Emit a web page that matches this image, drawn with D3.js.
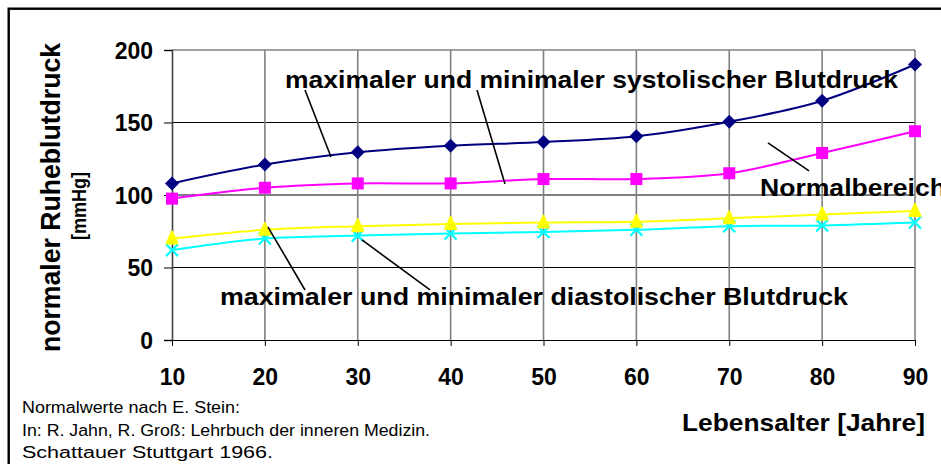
<!DOCTYPE html>
<html>
<head>
<meta charset="utf-8">
<script src="https://cdn.jsdelivr.net/npm/d3@7"></script>
<style>
  html, body { margin: 0; padding: 0; background: #fff; }
  svg { display: block; }
  text { font-family: "Liberation Sans", Arial, sans-serif; }
</style>
</head>
<body>
<svg id="chart" width="941" height="464"></svg>
<script>
// ---- data ----
const ages = [10, 20, 30, 40, 50, 60, 70, 80, 90];
const sysMax = [108, 121, 129.5, 134, 136.5, 140.5, 150.5, 165, 190];
const sysMin = [97.5, 105, 108, 108, 111, 111, 115, 129, 144];
const diaMax = [70, 76, 78.5, 80, 81, 81.5, 84, 86.5, 89];
const diaMin = [62, 70, 72, 73.5, 74.5, 76, 78.5, 79, 81];
const yTicks = [0, 50, 100, 150, 200];
const xTickLabels = ["10", "20", "30", "40", "50", "60", "70", "80", "90"];
const labelSys = "maximaler und minimaler systolischer Blutdruck";
const labelNorm = "Normalbereich";
const labelDia = "maximaler und minimaler diastolischer Blutdruck";
const yTitle1 = "normaler Ruheblutdruck";
const yTitle2 = "[mmHg]";
const xTitle = "Lebensalter [Jahre]";
const sourceLines = ["Normalwerte nach E. Stein:",
                     "In: R. Jahn, R. Groß: Lehrbuch der inneren Medizin.",
                     "Schattauer Stuttgart 1966."];
// leader lines in data coordinates [age, mmHg]
const leaders = [
  [[24.32, 172.4], [27.12, 126.2]],
  [[42.84, 172.4], [45.85, 107.6]],
  [[74.17, 135.9], [78.59, 116.6]],
  [[20.34, 77.9], [24.32, 34.5]],
  [[30.46, 69.0], [37.78, 34.5]]
];

// ---- layout ----
const svg = d3.select("#chart");
const L = 172, R = 915, T = 50, B = 340;
const x = d3.scaleLinear().domain([10, 90]).range([L, R]);
const y = d3.scaleLinear().domain([0, 200]).range([B, T]);

svg.append("rect").attr("width", 941).attr("height", 464).attr("fill", "#fff");
// outer frame (right/bottom edges outside the picture)
svg.append("rect").attr("x", 8.7).attr("y", 8.7).attr("width", 1200).attr("height", 1200)
  .attr("fill", "none").attr("stroke", "#000").attr("stroke-width", 2.4);

// horizontal gridlines
svg.append("g").selectAll("line").data([50, 100, 150]).join("line")
  .attr("x1", L).attr("x2", R).attr("y1", d => y(d)).attr("y2", d => y(d))
  .attr("stroke", "#000").attr("stroke-width", 1);
// plot border top
svg.append("line").attr("x1", L).attr("x2", R).attr("y1", y(200)).attr("y2", y(200))
  .attr("stroke", "#808080").attr("stroke-width", 1.5);
// vertical gridlines
svg.append("g").selectAll("line").data(ages.slice(1)).join("line")
  .attr("x1", d => x(d)).attr("x2", d => x(d)).attr("y1", T).attr("y2", B)
  .attr("stroke", "#808080").attr("stroke-width", 1.6);

// axes
const yAxis = svg.append("g").attr("transform", `translate(${L},0)`)
  .call(d3.axisLeft(y).tickValues(yTicks).tickSize(8).tickPadding(11));
const xAxis = svg.append("g").attr("transform", `translate(0,${B})`)
  .call(d3.axisBottom(x).tickValues(ages).tickSize(6).tickPadding(23)
    .tickFormat((d, i) => xTickLabels[i]));
yAxis.select(".domain").attr("stroke", "#404040").attr("stroke-width", 1.6);
xAxis.select(".domain").attr("stroke", "#000").attr("stroke-width", 1);
[yAxis, xAxis].forEach(a => {
  a.selectAll(".tick line").attr("stroke", "#000").attr("stroke-width", 1);
  a.selectAll(".tick text").attr("fill", "#000")
    .style("font-family", '"Liberation Sans", Arial, sans-serif')
    .style("font-weight", "bold").style("font-size", "23px");
});
yAxis.selectAll(".tick text").attr("dy", "0.36em");
xAxis.selectAll(".tick text").attr("dy", "0.71em");

// series
const line = d3.line().x(d => x(d[0])).y(d => y(d[1])).curve(d3.curveCardinal.tension(0));
const series = [
  {vals: diaMin, color: "#00FFFF", marker: "x"},
  {vals: diaMax, color: "#FFFF00", marker: "tri"},
  {vals: sysMin, color: "#FF00FF", marker: "sq"},
  {vals: sysMax, color: "#000080", marker: "dia"}
];
series.forEach(s => {
  const pts = ages.map((a, i) => [a, s.vals[i]]);
  svg.append("path").attr("d", line(pts)).attr("fill", "none")
    .attr("stroke", s.color).attr("stroke-width", 2);
  const g = svg.append("g");
  pts.forEach(p => {
    const cx = x(p[0]), cy = y(p[1]);
    if (s.marker === "dia") {
      g.append("path").attr("d", `M${cx},${cy-7}L${cx+7},${cy}L${cx},${cy+7}L${cx-7},${cy}Z`)
        .attr("fill", s.color);
    } else if (s.marker === "sq") {
      g.append("rect").attr("x", cx-6).attr("y", cy-6).attr("width", 12).attr("height", 12)
        .attr("fill", s.color);
    } else if (s.marker === "tri") {
      g.append("path").attr("d", `M${cx},${cy-7}L${cx+5.5},${cy+5}L${cx-5.5},${cy+5}Z`)
        .attr("fill", s.color).attr("stroke", s.color).attr("stroke-width", 2)
        .attr("stroke-linejoin", "round");
    } else {
      g.append("path").attr("d", `M${cx-6},${cy-6}L${cx+6},${cy+6}M${cx-6},${cy+6}L${cx+6},${cy-6}`)
        .attr("stroke", s.color).attr("stroke-width", 2.2);
    }
  });
});

// leader lines
svg.append("g").selectAll("line").data(leaders).join("line")
  .attr("x1", d => x(d[0][0])).attr("y1", d => y(d[0][1]))
  .attr("x2", d => x(d[1][0])).attr("y2", d => y(d[1][1]))
  .attr("stroke", "#000").attr("stroke-width", 1.6);

// texts
function txt(str, px, py, size, weight, len, rot) {
  const t = svg.append("text").text(str).attr("x", px).attr("y", py)
    .style("font-size", size + "px").style("font-weight", weight).attr("fill", "#000");
  if (len) t.attr("textLength", len).attr("lengthAdjust", "spacingAndGlyphs");
  if (rot) t.attr("transform", `rotate(-90,${px},${py})`).attr("text-anchor", "middle");
  return t;
}
txt(labelSys, 285, 88, 24, "bold", 613);
txt(labelNorm, 760, 196, 24, "bold", 186);
txt(labelDia, 220, 305, 24, "bold", 628);
txt(yTitle1, 60, 197.5, 28, "bold", 309, true);
txt(yTitle2, 86, 206, 20, "bold", 68, true);
txt(xTitle, 682, 431, 24, "bold", 243);
txt(sourceLines[0], 22, 413, 16, "normal", 218);
txt(sourceLines[1], 22, 436, 16, "normal", 408);
txt(sourceLines[2], 22, 458, 16, "normal", 251);
</script>
</body>
</html>
